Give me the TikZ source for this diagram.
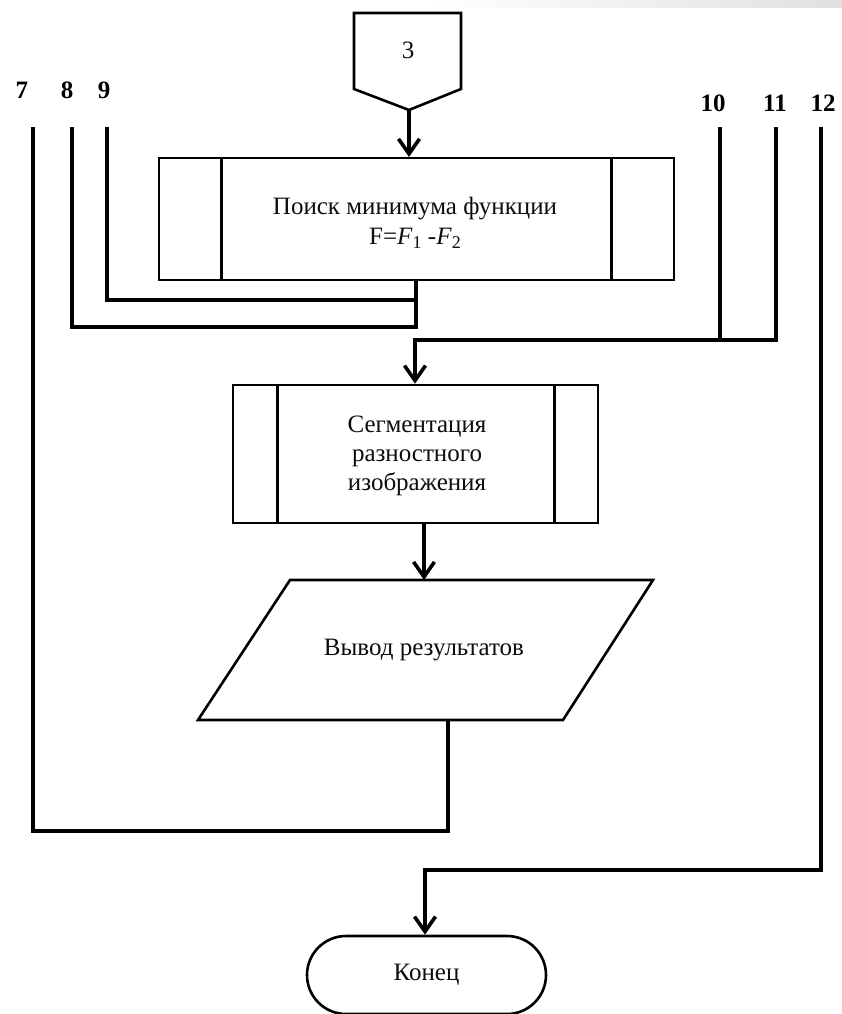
\documentclass[tikz,border=0pt]{standalone}
\usepackage{fontspec}
\setmainfont{Liberation Serif}
\usetikzlibrary{arrows.meta,shapes.misc}

\tikzset{
  txt/.style={font=\fontsize{25}{29}\selectfont, text=black!95, align=center, inner sep=0pt},
  lbl/.style={font=\fontsize{25}{29}\selectfont\bfseries, text=black, inner sep=0pt},
  outline/.style={draw=black, line width=2.6pt},
  procbox/.style={outline, rectangle, inner sep=0pt},
  flow/.style={line width=4pt, line join=miter, line cap=butt},
  arr/.style={flow, -{Straight Barb[length=15pt,width=21pt,line width=3.6pt]}},
}

\begin{document}
\begin{tikzpicture}[x=1pt,y=-1pt]
\useasboundingbox (0,0) rectangle (842,1014);
\fill[white] (0,0) rectangle (842,1014);
\shade[left color=white, right color=black!12] (430,0) rectangle (842,8);

% off-page connector 3
\draw[outline, line join=miter] (354,13) -- (461,13) -- (461,89) -- (409,110) -- (354,89) -- cycle;
\node[txt] (c3) at (408,50) {3};
\coordinate (c3tip) at (409,110);

% incoming line labels
\node[lbl] (l7) at (22,90) {7};
\node[lbl] (l8) at (67,90) {8};
\node[lbl] (l9) at (104,90) {9};
\node[lbl] (l10) at (713,103) {10};
\node[lbl] (l11) at (775,103) {11};
\node[lbl] (l12) at (823,103) {12};
\coordinate (t7) at (33,127);
\coordinate (t8) at (72,127);
\coordinate (t9) at (107,127);
\coordinate (t10) at (720,127);
\coordinate (t11) at (776,127);
\coordinate (t12) at (821,127);

% predefined process: minimum search
\node[procbox, minimum width=515pt, minimum height=122pt] (find) at (416.5,219) {};
\draw[outline] ([xshift=64pt]find.north west) -- ([xshift=64pt]find.south west);
\draw[outline] ([xshift=-64pt]find.north east) -- ([xshift=-64pt]find.south east);
\node[txt] at (415,209) {Поиск минимума функции};
\node[txt] at (415,238) {F=\textit{F}\raisebox{-0.35ex}{\fontsize{18}{18}\selectfont 1} -\textit{F}\raisebox{-0.35ex}{\fontsize{18}{18}\selectfont 2}};

% predefined process: segmentation
\node[procbox, minimum width=365pt, minimum height=138pt] (seg) at (415.5,454) {};
\draw[outline] ([xshift=46pt]seg.north west) -- ([xshift=46pt]seg.south west);
\draw[outline] ([xshift=-45pt]seg.north east) -- ([xshift=-45pt]seg.south east);
\node[txt] at (417,456) {Сегментация\\разностного\\изображения};

% output (parallelogram)
\draw[outline, line join=miter] (290,580) -- (653,580) -- (563,720) -- (198,720) -- cycle;
\node[txt] (out) at (424,650) {Вывод результатов};
\coordinate (outtop) at (424,580);
\coordinate (outbot) at (448,720);

% terminator
\node[outline, rounded rectangle, minimum width=239pt, minimum height=78pt, txt] (end) at (426.5,975) {Конец};

% connectors
\draw[arr] (c3tip) -- (409,157);
\draw[flow] (t9) |- (416,300);
\draw[flow] (t8) |- (416,327) -- (find.south -| 416,0);
\draw[flow] (t10) -- (720,340);
\draw[arr] (t11) |- (415,340) -- (seg.north -| 415,0);
\draw[arr] (seg.south -| 424,0) -- (outtop);
\draw[flow] (t7) |- (448,831) -- (outbot);
\draw[arr] (t12) |- (425,870) -- (end.north -| 425,0);
\end{tikzpicture}
\end{document}
